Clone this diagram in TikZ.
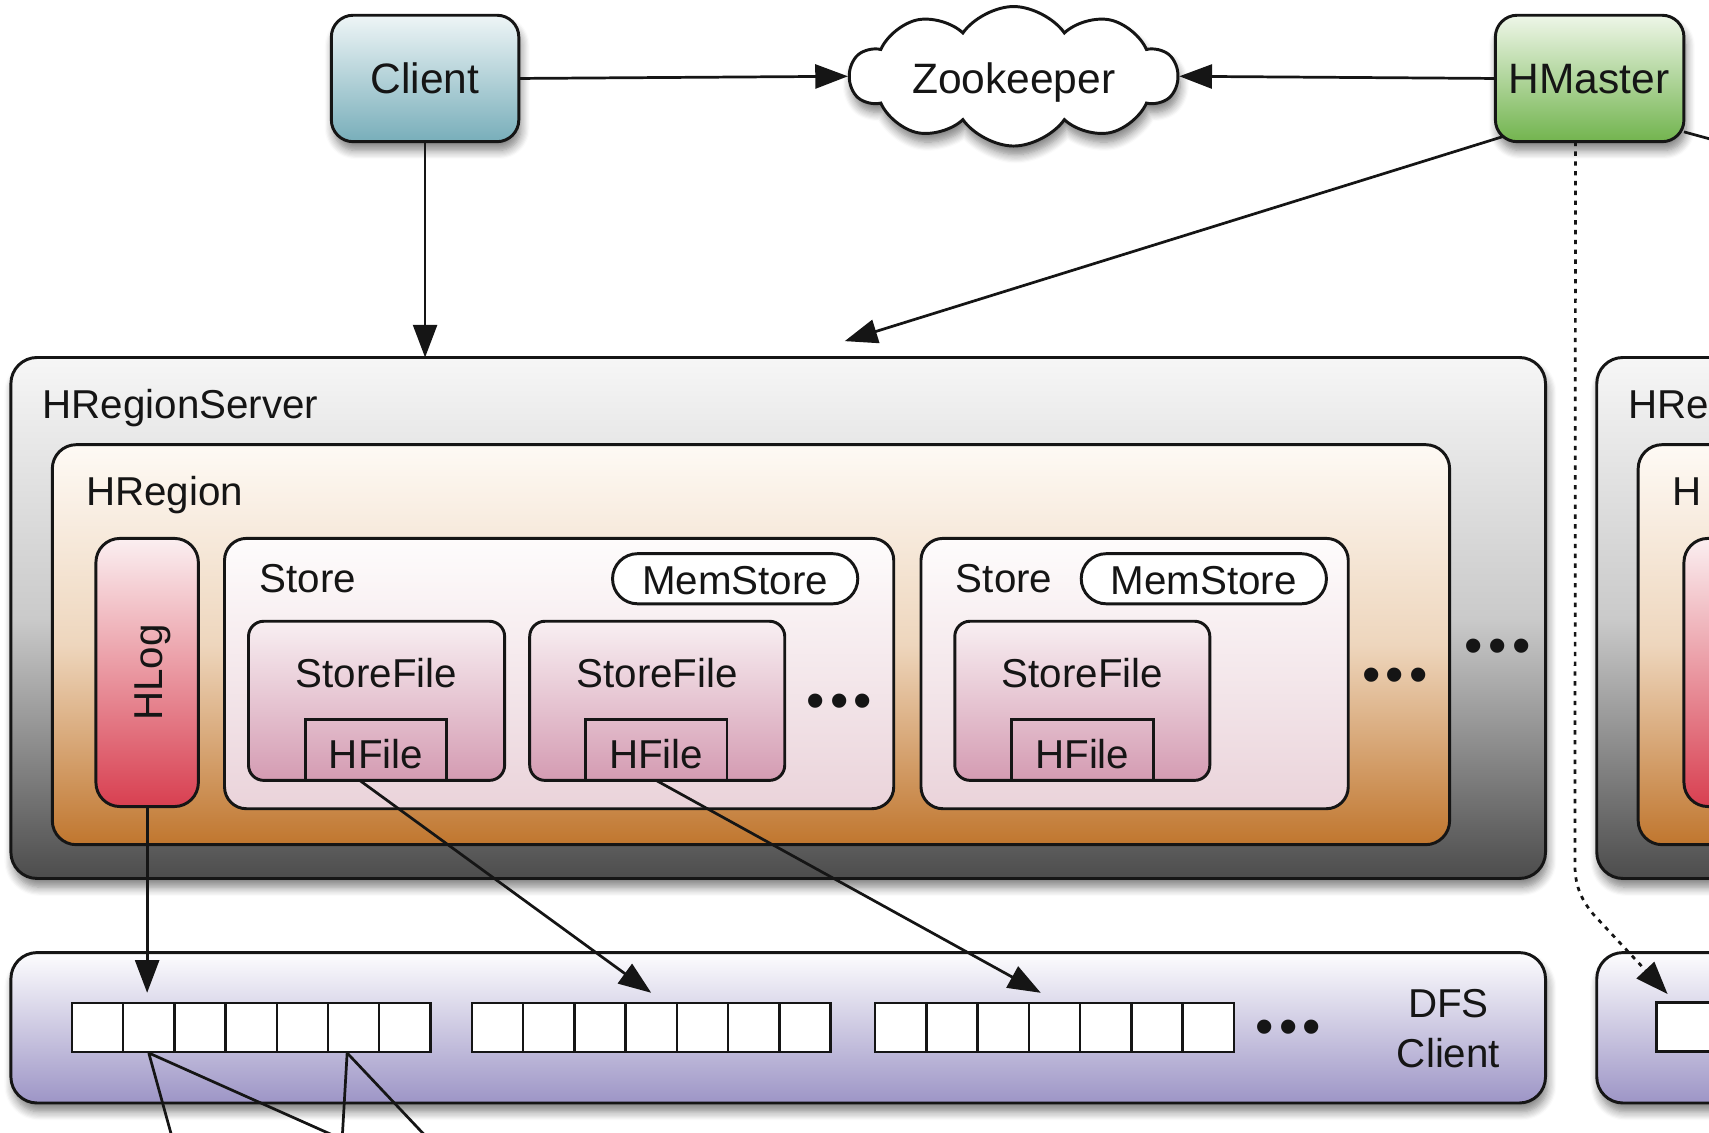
\documentclass[tikz,border=0pt]{standalone}
\usepackage{fontspec}
\setmainfont{Liberation Sans}
\usetikzlibrary{shapes.symbols,shadows.blur,arrows.meta,fit,calc}
\definecolor{clientT}{HTML}{EEF5F6}
\definecolor{clientB}{HTML}{78AEBA}
\definecolor{hmT}{HTML}{EEF6E8}
\definecolor{hmB}{HTML}{72B44E}
\definecolor{hrsT}{HTML}{F6F6F6}
\definecolor{hrsM}{HTML}{CACACA}
\definecolor{hrsB}{HTML}{4C4C4C}
\definecolor{hrgT}{HTML}{FEFAF5}
\definecolor{hrgM}{HTML}{EED6BD}
\definecolor{hrgB}{HTML}{C0762E}
\definecolor{hlogT}{HTML}{FBEFF1}
\definecolor{hlogB}{HTML}{D83F50}
\definecolor{storeT}{HTML}{FEFCFC}
\definecolor{storeB}{HTML}{EAD3DA}
\definecolor{sfT}{HTML}{F8EFF2}
\definecolor{sfB}{HTML}{D49BB2}
\definecolor{dfsT}{HTML}{FDFDFE}
\definecolor{dfsB}{HTML}{9D95C6}
\definecolor{ink}{HTML}{151515}
\begin{document}
\begin{tikzpicture}[x=0.5pt,y=0.5pt,
  font=\fontsize{18.5}{23}\selectfont, text=ink,
  fb/.style={inner sep=0pt,outer sep=0pt,draw=ink,line width=1.35pt},
  shad/.style={blur shadow={shadow xshift=1pt,shadow yshift=-4pt,shadow blur radius=4pt,shadow blur steps=8,shadow opacity=50}},
  conn/.style={draw=ink,line width=1.25pt,-{Triangle[length=15pt,width=11pt]}},
  plain/.style={draw=ink,line width=1.25pt},
  big/.style={font=\fontsize{19.5}{23}\selectfont},
  cell/.style={draw=ink,fill=white,line width=1.1pt,minimum width=23.5pt,minimum height=22.5pt,inner sep=0pt},
  dots/.style={font=\fontsize{24}{24}\selectfont},
]
\useasboundingbox (0,0) rectangle (1568,1039);
\clip (0,0) rectangle (1568,1039);

% ---------- HRegionServer ----------
\node[fb,rounded corners=12pt,top color=hrsT,bottom color=hrsB,middle color=hrsM,shad,fit={(10,233) (1418,711)}] (hrs) {};
\node[anchor=base west] (thrs) at (32,655) {HRegionServer};
\node[fb,rounded corners=11pt,top color=hrgT,bottom color=hrgB,middle color=hrgM,fit={(48,264) (1330,631)}] (hrg) {};
\node[anchor=base west] (thrg) at (72,575) {HRegion};
\node[fb,rounded corners=11pt,top color=hlogT,bottom color=hlogB,fit={(88,299) (182,545)}] (hlog) {};
\node[rotate=90,anchor=base] (thlog) at (149,422) {HLog};

% Store 1
\node[fb,rounded corners=10pt,top color=storeT,bottom color=storeB,fit={(206,297) (820,545)}] (st1) {};
\node[anchor=base west] (tst1) at (231,495) {Store};
\node[fb,rounded corners=11.5pt,fill=white,fit={(562,485) (787,531)}] (ms1) {};
\node[anchor=base] (tms1) at (674.5,494) {MemStore};
\node[fb,rounded corners=7pt,top color=sfT,bottom color=sfB,fit={(228,323) (463,469)}] (sf1) {};
\node[anchor=base] (tsf1) at (345.5,408) {StoreFile};
\node[fb,fit={(280,323) (410,379)}] (hf1) {};
\node[anchor=base] (thf1) at (345,334) {HFile};
\node[fb,rounded corners=7pt,top color=sfT,bottom color=sfB,fit={(486,323) (720,469)}] (sf2) {};
\node[anchor=base] (tsf2) at (603,408) {StoreFile};
\node[fb,fit={(537,323) (667,379)}] (hf2) {};
\node[anchor=base] (thf2) at (602,334) {HFile};
\node[dots] (d1) at (770,391) {•\kern2.5pt•\kern2.5pt•};

% Store 2
\node[fb,rounded corners=10pt,top color=storeT,bottom color=storeB,fit={(845,297) (1237,545)}] (st2) {};
\node[anchor=base west] (tst2) at (870,495) {Store};
\node[fb,rounded corners=11.5pt,fill=white,fit={(992,485) (1217,531)}] (ms2) {};
\node[anchor=base] (tms2) at (1104.5,494) {MemStore};
\node[fb,rounded corners=7pt,top color=sfT,bottom color=sfB,fit={(876,323) (1110,469)}] (sf3) {};
\node[anchor=base] (tsf3) at (993,408) {StoreFile};
\node[fb,fit={(928,323) (1058,379)}] (hf3) {};
\node[anchor=base] (thf3) at (993,334) {HFile};
\node[dots] (d2) at (1280,415) {•\kern2.5pt•\kern2.5pt•};
\node[dots] (d3) at (1374,441) {•\kern2.5pt•\kern2.5pt•};

% ---------- DFS Client ----------
\node[fb,rounded corners=12pt,top color=dfsT,bottom color=dfsB,shad,fit={(10,27) (1418,165)}] (dfs) {};
\foreach \r/\x in {1/66,2/433,3/803}{
  \foreach \i in {0,...,6}{
    \node[cell] (c\r\i) at ({\x+23.5+47*\i},96.5) {};
  }
}
\node[dots] (d4) at (1182,92) {•\kern2.5pt•\kern2.5pt•};
\node[align=center] (tdfs) at (1329,95) {DFS\\Client};

% ---------- partial right column ----------
\node[fb,rounded corners=12pt,top color=hrsT,bottom color=hrsB,middle color=hrsM,shad,fit={(1465,233) (1660,711)}] (hrs2) {};
\node[anchor=base west] (thrs2) at (1487,655) {HRe};
\node[fb,rounded corners=11pt,top color=hrgT,bottom color=hrgB,middle color=hrgM,fit={(1503,264) (1650,631)}] (hrg2) {};
\node[anchor=base west] (thrg2) at (1527,575) {H};
\node[fb,rounded corners=11pt,top color=hlogT,bottom color=hlogB,fit={(1545,299) (1639,545)}] (hlog2) {};
\node[fb,rounded corners=12pt,top color=dfsT,bottom color=dfsB,shad,fit={(1465,27) (1660,165)}] (dfs2) {};
\node[fb,fill=white,fit={(1520,74) (1620,119)}] (blk2) {};

% ---------- top row ----------
\node[fb,rounded corners=10pt,top color=clientT,bottom color=clientB,shad,fit={(304,909) (476,1025)}] (client) {};
\node[anchor=base,big] (tclient) at (390,953) {Client};
\node[cloud,cloud puffs=10,cloud puff arc=110,aspect=2.3,draw=ink,line width=1.35pt,fill=white,minimum width=150pt,minimum height=64pt,inner sep=0pt,shad] (zk) at (930,969) {};
\node[anchor=base,big] (tzk) at (930,953) {Zookeeper};
\node[fb,rounded corners=10pt,top color=hmT,bottom color=hmB,shad,fit={(1372,909) (1545,1025)}] (hm) {};
\node[anchor=base,big] (thm) at (1458,953) {HMaster};

% ---------- connectors ----------
\coordinate (hrsin) at (775,726);
\coordinate (hmout) at (1600,903);
\coordinate (dfsin) at (1530,127);
\coordinate (e1) at (158,-5);
\coordinate (e2) at (311,-5);
\coordinate (e3) at (314,-5);
\coordinate (e4) at (392,-5);

\draw[conn] (client.east) -- (zk.west);
\draw[conn] (hm.west) -- (zk.east);
\draw[conn] (client.south) -- (client.south |- hrs.north);
\draw[conn] ($(hm.south west)+(8,5)$) -- (hrsin);
\draw[plain] ($(hm.south east)+(0,9)$) -- (hmout);
\draw[ink,line width=1.25pt,dash pattern=on 2pt off 2.5pt,-{Triangle[length=15pt,width=11pt]}]
  ($(hm.south)+(-13,0)$) -- (1445,245) .. controls (1445,225) and (1452,212) .. (1462,200) -- (dfsin);
\draw[conn] (hlog.south) -- ($(hlog.south |- c11.north)+(0,8)$);
\draw[conn] ($(hf1.south)+(-15,0)$) -- ($(c23.north)+(0,8)$);
\draw[conn] (hf2.south) -- ($(c33.north west)+(12,8)$);
\draw[plain] (c11.south) -- (e1);
\draw[plain] (c11.south) -- (e2);
\draw[plain] ($(c15.south)+(-6,0)$) -- (e3);
\draw[plain] ($(c15.south)+(-6,0)$) -- (e4);
\end{tikzpicture}
\end{document}
